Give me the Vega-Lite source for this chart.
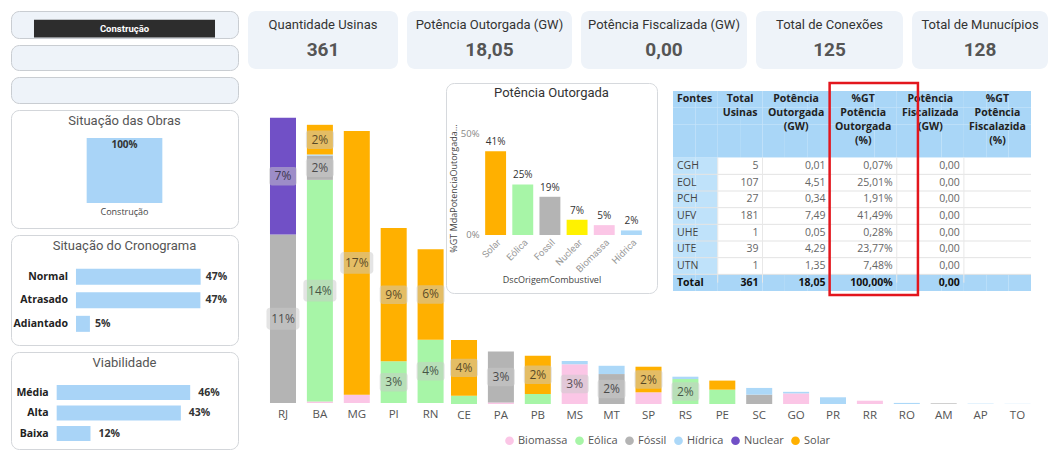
{
"$schema": "https://vega.github.io/schema/vega-lite/v6.json",
"background": "#ffffff",
"padding": {"left": 10, "top": 10, "right": 0, "bottom": 0},
"spacing": 9,
"datasets": {
"uf": [
{"uf":"RJ","fonte":"Fóssil","v":0.108},{"uf":"RJ","fonte":"Nuclear","v":0.0748},
{"uf":"BA","fonte":"Biomassa","v":0.001},{"uf":"BA","fonte":"Eólica","v":0.142},{"uf":"BA","fonte":"Fóssil","v":0.0155},{"uf":"BA","fonte":"Hídrica","v":0.0008},{"uf":"BA","fonte":"Solar","v":0.019},
{"uf":"MG","fonte":"Biomassa","v":0.0053},{"uf":"MG","fonte":"Solar","v":0.169},
{"uf":"PI","fonte":"Eólica","v":0.0267},{"uf":"PI","fonte":"Solar","v":0.0855},
{"uf":"RN","fonte":"Eólica","v":0.0406},{"uf":"RN","fonte":"Solar","v":0.058},
{"uf":"CE","fonte":"Eólica","v":0.0053},{"uf":"CE","fonte":"Solar","v":0.0357},
{"uf":"PA","fonte":"Biomassa","v":0.001},{"uf":"PA","fonte":"Fóssil","v":0.0327},
{"uf":"PB","fonte":"Eólica","v":0.0064},{"uf":"PB","fonte":"Solar","v":0.0246},
{"uf":"MS","fonte":"Biomassa","v":0.0255},{"uf":"MS","fonte":"Hídrica","v":0.0021},
{"uf":"MT","fonte":"Fóssil","v":0.0192},{"uf":"MT","fonte":"Hídrica","v":0.0053},
{"uf":"SP","fonte":"Biomassa","v":0.0075},{"uf":"SP","fonte":"Solar","v":0.0164},
{"uf":"RS","fonte":"Eólica","v":0.016},{"uf":"RS","fonte":"Hídrica","v":0.0015},
{"uf":"PE","fonte":"Eólica","v":0.0092},{"uf":"PE","fonte":"Solar","v":0.0058},
{"uf":"SC","fonte":"Fóssil","v":0.006},{"uf":"SC","fonte":"Hídrica","v":0.0043},
{"uf":"GO","fonte":"Biomassa","v":0.0068},{"uf":"GO","fonte":"Hídrica","v":0.001},
{"uf":"PR","fonte":"Hídrica","v":0.0043},
{"uf":"RR","fonte":"Biomassa","v":0.0021},
{"uf":"RO","fonte":"Hídrica","v":0.0007},
{"uf":"AM","fonte":"Fóssil","v":0.0004},
{"uf":"AP","fonte":"Hídrica","v":0.0002},
{"uf":"TO","fonte":"Hídrica","v":0.0001}
],
"fontes": [
{"f":"Solar","p":0.4149},{"f":"Eólica","p":0.2501},{"f":"Fossil","p":0.189},{"f":"Nuclear","p":0.0748},{"f":"Biomassa","p":0.0487},{"f":"Hídrica","p":0.0226}
],
"tabela": [
{"f":"CGH","n":5,"po":0.01,"pct":0.0007,"pf":0},
{"f":"EOL","n":107,"po":4.51,"pct":0.2501,"pf":0},
{"f":"PCH","n":27,"po":0.34,"pct":0.0191,"pf":0},
{"f":"UFV","n":181,"po":7.49,"pct":0.4149,"pf":0},
{"f":"UHE","n":1,"po":0.05,"pct":0.0028,"pf":0},
{"f":"UTE","n":39,"po":4.29,"pct":0.2377,"pf":0},
{"f":"UTN","n":1,"po":1.35,"pct":0.0748,"pf":0},
{"f":"Total","n":361,"po":18.05,"pct":1,"pf":0}
],
"hdr": [
{"c":"c1","lines":["Fontes"]},
{"c":"c2","lines":["Total","Usinas"]},
{"c":"c3","lines":["Potência","Outorgada","(GW)"]},
{"c":"c4","lines":["%GT","Potência","Outorgada","(%)"]},
{"c":"c5","lines":["Potência","Fiscalizada","(GW)"]},
{"c":"c6","lines":["%GT","Potência","Fiscalazida","(%)"]}
],
"cells": [
{"r":["h1","h2","h3","h4","CGH","EOL","PCH","UFV","UHE","UTE","UTN","Total"],"s":["s1","s2","s3","s4","s5","s6","s7","s8","s9","s10","s11","s12","s13","s14","s15","s16"]}
],
"vazio": [{"s": ""}]
},
"hconcat": [
{"vconcat": [
{"width": 227, "height": 27,
 "view": {"fill": "#eef3f9", "stroke": "#c9cdd2", "cornerRadius": 8},
 "data": {"values": [{"s": "Construção"}]},
 "encoding": {
  "x": {"field": "s", "type": "nominal", "axis": null, "scale": {"paddingInner": 0, "paddingOuter": 0.127}},
  "y": {"field": "s", "type": "nominal", "axis": null, "scale": {"paddingInner": 0, "paddingOuter": 0.26, "align": 0.95}}
 },
 "layer": [
  {"mark": {"type": "bar", "color": "#2d2d2d"}},
  {"mark": {"type": "text", "color": "#ffffff", "fontWeight": "bold", "fontSize": 9.5, "font": "Roboto"}, "encoding": {"text": {"field": "s"}}}
 ]
},
{"width": 227, "height": 25,
 "view": {"fill": "#eef3f9", "stroke": "#c9cdd2", "cornerRadius": 8},
 "data": {"name": "vazio"},
 "mark": {"type": "text"},
 "encoding": {"text": {"field": "s"}}
},
{"width": 227, "height": 26,
 "view": {"fill": "#eef3f9", "stroke": "#c9cdd2", "cornerRadius": 8},
 "data": {"name": "vazio"},
 "mark": {"type": "text"},
 "encoding": {"text": {"field": "s"}}
},
{"width": 227, "height": 118,
 "view": {"fill": "#ffffff", "stroke": "#d3d6da", "cornerRadius": 8},
 "title": {"text": "Situação das Obras", "offset": -18, "frame": "group"},
 "data": {"values": [{"s": "Construção", "p": 1}]},
 "encoding": {
  "x": {"field": "s", "type": "nominal", "axis": null, "scale": {"paddingInner": 0, "paddingOuter": 2.02}},
  "y": {"field": "p", "type": "quantitative", "axis": null, "scale": {"domain": [-0.385, 1.43], "nice": false, "zero": false}}
 },
 "layer": [
  {"mark": {"type": "bar", "color": "#a9d4f7"}},
  {"mark": {"type": "text", "baseline": "top", "dy": 2, "fontWeight": "bold", "fontSize": 10, "color": "#333333"}, "encoding": {"text": {"field": "p", "format": ".0%"}}},
  {"mark": {"type": "text", "baseline": "top", "dy": 5, "fontSize": 9, "color": "#444444"}, "encoding": {"y": {"datum": 0, "type": "quantitative"}, "text": {"field": "s"}}}
 ]
},
{"width": 227, "height": 110,
 "view": {"fill": "#ffffff", "stroke": "#d3d6da", "cornerRadius": 8},
 "title": {"text": "Situação do Cronograma", "offset": -18, "frame": "group"},
 "data": {"values": [{"c": "Normal", "p": 0.474}, {"c": "Atrasado", "p": 0.473}, {"c": "Adiantado", "p": 0.053}]},
 "encoding": {
  "y": {"field": "c", "type": "nominal", "axis": null, "sort": null, "scale": {"domain": ["Normal", "Atrasado", "Adiantado"], "paddingInner": 0.318, "paddingOuter": 1.16, "align": 0.72}},
  "x": {"field": "p", "type": "quantitative", "axis": null, "scale": {"domain": [-0.247, 0.616], "nice": false, "zero": false}}
 },
 "layer": [
  {"mark": {"type": "bar", "color": "#a9d4f7"}},
  {"mark": {"type": "text", "align": "left", "dx": 5, "fontWeight": "bold", "fontSize": 10.5, "color": "#333333"}, "encoding": {"text": {"field": "p", "format": ".0%"}}},
  {"mark": {"type": "text", "align": "right", "dx": -8, "fontWeight": "bold", "fontSize": 10.5, "color": "#222222"}, "encoding": {"x": {"datum": 0, "type": "quantitative"}, "text": {"field": "c"}}}
 ]
},
{"width": 227, "height": 97,
 "view": {"fill": "#ffffff", "stroke": "#d3d6da", "cornerRadius": 8},
 "title": {"text": "Viabilidade", "offset": -18, "frame": "group"},
 "data": {"values": [{"c": "Média", "p": 0.458}, {"c": "Alta", "p": 0.426}, {"c": "Baixa", "p": 0.116}]},
 "encoding": {
  "y": {"field": "c", "type": "nominal", "axis": null, "sort": null, "scale": {"domain": ["Média", "Alta", "Baixa"], "paddingInner": 0.27, "paddingOuter": 1.16, "align": 0.807}},
  "x": {"field": "p", "type": "quantitative", "axis": null, "scale": {"domain": [-0.1567, 0.622], "nice": false, "zero": false}}
 },
 "layer": [
  {"mark": {"type": "bar", "color": "#a9d4f7"}},
  {"mark": {"type": "text", "align": "left", "dx": 8, "fontWeight": "bold", "fontSize": 10.5, "color": "#333333"}, "encoding": {"text": {"field": "p", "format": ".0%"}}},
  {"mark": {"type": "text", "align": "right", "dx": -8, "fontWeight": "bold", "fontSize": 10.5, "color": "#222222"}, "encoding": {"x": {"datum": 0, "type": "quantitative"}, "text": {"field": "c"}}}
 ]
}
], "spacing": 7, "bounds": "flush"},
{"vconcat": [
{"hconcat": [
 {"width": 150, "height": 58, "view": {"fill": "#eef3f9", "stroke": null, "cornerRadius": 8},
  "data": {"values": [{"t": "Quantidade Usinas", "v": 361}]},
  "layer": [
   {"mark": {"type": "text", "font": "Roboto", "fontSize": 13, "color": "#333333"}, "encoding": {"y": {"datum": "t", "type": "nominal", "axis": null, "scale": {"type": "point", "domain": ["t", "v"], "padding": 0.66, "align": 0.424}}, "text": {"field": "t"}}},
   {"mark": {"type": "text", "font": "Roboto", "fontSize": 19, "fontWeight": "bold", "color": "#555555"}, "encoding": {"y": {"datum": "v", "type": "nominal", "axis": null}, "text": {"field": "v", "format": "d"}}}
  ]},
 {"width": 165, "height": 58, "view": {"fill": "#eef3f9", "stroke": null, "cornerRadius": 8},
  "data": {"values": [{"t": "Potência Outorgada (GW)", "v": 18.05}]},
  "layer": [
   {"mark": {"type": "text", "font": "Roboto", "fontSize": 13, "color": "#333333"}, "encoding": {"y": {"datum": "t", "type": "nominal", "axis": null, "scale": {"type": "point", "domain": ["t", "v"], "padding": 0.66, "align": 0.424}}, "text": {"field": "t"}}},
   {"mark": {"type": "text", "font": "Roboto", "fontSize": 19, "fontWeight": "bold", "color": "#555555"}, "encoding": {"y": {"datum": "v", "type": "nominal", "axis": null}, "text": {"field": "v", "format": ".2f"}}}
  ]},
 {"width": 166, "height": 58, "view": {"fill": "#eef3f9", "stroke": null, "cornerRadius": 8},
  "data": {"values": [{"t": "Potência Fiscalizada (GW)", "v": 0}]},
  "layer": [
   {"mark": {"type": "text", "font": "Roboto", "fontSize": 13, "color": "#333333"}, "encoding": {"y": {"datum": "t", "type": "nominal", "axis": null, "scale": {"type": "point", "domain": ["t", "v"], "padding": 0.66, "align": 0.424}}, "text": {"field": "t"}}},
   {"mark": {"type": "text", "font": "Roboto", "fontSize": 19, "fontWeight": "bold", "color": "#555555"}, "encoding": {"y": {"datum": "v", "type": "nominal", "axis": null}, "text": {"field": "v", "format": ".2f"}}}
  ]},
 {"width": 147, "height": 58, "view": {"fill": "#eef3f9", "stroke": null, "cornerRadius": 8},
  "data": {"values": [{"t": "Total de Conexões", "v": 125}]},
  "layer": [
   {"mark": {"type": "text", "font": "Roboto", "fontSize": 13, "color": "#333333"}, "encoding": {"y": {"datum": "t", "type": "nominal", "axis": null, "scale": {"type": "point", "domain": ["t", "v"], "padding": 0.66, "align": 0.424}}, "text": {"field": "t"}}},
   {"mark": {"type": "text", "font": "Roboto", "fontSize": 19, "fontWeight": "bold", "color": "#555555"}, "encoding": {"y": {"datum": "v", "type": "nominal", "axis": null}, "text": {"field": "v", "format": "d"}}}
  ]},
 {"width": 136, "height": 58, "view": {"fill": "#eef3f9", "stroke": null, "cornerRadius": 8},
  "data": {"values": [{"t": "Total de Munucípios", "v": 128}]},
  "layer": [
   {"mark": {"type": "text", "font": "Roboto", "fontSize": 13, "color": "#333333"}, "encoding": {"y": {"datum": "t", "type": "nominal", "axis": null, "scale": {"type": "point", "domain": ["t", "v"], "padding": 0.66, "align": 0.424}}, "text": {"field": "t"}}},
   {"mark": {"type": "text", "font": "Roboto", "fontSize": 19, "fontWeight": "bold", "color": "#555555"}, "encoding": {"y": {"datum": "v", "type": "nominal", "axis": null}, "text": {"field": "v", "format": "d"}}}
  ]}
], "spacing": 9, "bounds": "flush"},
{"hconcat": [
 {"width": 196, "height": 320,
  "data": {"name": "uf"},
  "transform": [
   {"filter": {"field": "uf", "oneOf": ["RJ", "BA", "MG", "PI", "RN"]}},
   {"stack": "v", "groupby": ["uf"], "sort": [{"field": "fonte", "order": "ascending"}], "as": ["v0", "v1"]},
   {"calculate": "(datum.v0 + datum.v1) / 2", "as": "vm"}
  ],
  "encoding": {
   "x": {"field": "uf", "type": "nominal", "sort": null, "scale": {"domain": ["RJ", "BA", "MG", "PI", "RN"], "paddingInner": 0.295, "paddingOuter": 0.3034, "align": 0.982},
    "axis": {"title": null, "domain": false, "ticks": false, "labelPadding": 5, "labelFontSize": 11.5, "labelColor": "#555555", "labelAngle": 0}}
  },
  "layer": [
   {"mark": {"type": "bar"}, "encoding": {
     "y": {"field": "v1", "type": "quantitative", "axis": null, "scale": {"domain": [0, 0.2051], "nice": false, "zero": true}},
     "y2": {"field": "v0"},
     "color": {"field": "fonte", "type": "nominal", "legend": null, "scale": {"domain": ["Biomassa", "Eólica", "Fóssil", "Hídrica", "Nuclear", "Solar"], "range": ["#fbc6e6", "#a7f5a7", "#b4b4b4", "#acd8f8", "#7150c6", "#ffb000"]}}}},
   {"transform": [{"filter": "datum.v >= 0.012"}],
    "mark": {"type": "point", "shape": "M-0.8,-0.66H0.8A0.2,0.2,0,0,1,1,-0.46V0.46A0.2,0.2,0,0,1,0.8,0.66H-0.8A0.2,0.2,0,0,1,-1,0.46V-0.46A0.2,0.2,0,0,1,-0.8,-0.66Z", "filled": true, "color": "#c9c9c9", "opacity": 0.5, "strokeWidth": 0},
    "encoding": {"y": {"field": "vm", "type": "quantitative"}, "size": {"condition": {"test": "datum.v >= 0.095", "value": 1089}, "value": 784}}},
   {"transform": [{"filter": "datum.v >= 0.012"}],
    "mark": {"type": "text", "fontSize": 12, "color": "#000000", "opacity": 0.62},
    "encoding": {"y": {"field": "vm", "type": "quantitative"}, "text": {"field": "v", "format": ".0%"}}}
  ]
 },
 {"vconcat": [
  {"hconcat": [
   {"width": 211, "height": 210,
    "view": {"stroke": "#d6d9dd", "cornerRadius": 8},
    "title": {"text": "Potência Outorgada", "frame": "group", "offset": -17, "fontSize": 13, "color": "#333333"},
    "data": {"name": "fontes"},
    "encoding": {
     "x": {"field": "f", "type": "nominal", "sort": null, "scale": {"domain": ["Solar", "Eólica", "Fossil", "Nuclear", "Biomassa", "Hídrica"], "paddingInner": 0.23, "paddingOuter": 1.173, "align": 0.721},
      "axis": {"offset": -58, "title": "DscOrigemCombustivel", "titleFontSize": 9, "titleFontWeight": "normal", "titleColor": "#444444", "titlePadding": 2, "labelAngle": -45, "labelFontSize": 9.5, "labelColor": "#999999", "labelFont": "Roboto", "domain": false, "ticks": false, "labelPadding": 2}},
     "y": {"field": "p", "type": "quantitative", "scale": {"domain": [-0.287, 0.752], "nice": false, "zero": false},
      "axis": {"offset": -37, "title": "%GT MdaPotenciaOutorgada…", "values": [0, 0.5], "format": ".0%", "grid": false, "domain": false, "ticks": false, "labelColor": "#888888", "labelFontSize": 9.5, "labelPadding": 4, "titleFontSize": 9, "titleFontWeight": "normal", "titleColor": "#444444", "titlePadding": 2}}
    },
    "layer": [
     {"data": {"name": "vazio"}, "mark": {"type": "rule", "strokeDash": [1, 2], "color": "#b8b8b8", "x2Offset": 23},
      "encoding": {"y": {"datum": 0.5, "type": "quantitative"}, "x": {"datum": "Solar", "type": "nominal", "bandPosition": 0}, "x2": {"datum": "Hídrica"}}},
     {"mark": {"type": "bar"}, "encoding": {"color": {"field": "f", "type": "nominal", "legend": null, "scale": {"domain": ["Solar", "Eólica", "Fossil", "Nuclear", "Biomassa", "Hídrica"], "range": ["#ffb000", "#a7f5a7", "#b4b4b4", "#fff200", "#fbc6e6", "#acd8f8"]}}}},
     {"mark": {"type": "text", "baseline": "bottom", "dy": -4, "fontSize": 10, "color": "#333333"}, "encoding": {"text": {"field": "p", "format": ".0%"}}}
    ]
   },
   {"width": 16, "height": 10, "data": {"name": "vazio"}, "mark": {"type": "text"}, "encoding": {"text": {"field": "s"}}},
   {"width": 358, "height": 212,
    "view": {"fill": "#ffffff", "stroke": null},
    "data": {"name": "tabela"},
    "layer": [
     {"data": {"name": "cells"}, "transform": [{"flatten": ["r"]}, {"flatten": ["s"]}],
      "mark": {"type": "rect", "strokeWidth": 0},
      "encoding": {
       "x": {"field": "s", "type": "nominal", "axis": null, "scale": {"domain": ["s1","s2","s3","s4","s5","s6","s7","s8","s9","s10","s11","s12","s13","s14","s15","s16"], "paddingInner": 0, "paddingOuter": 0}},
       "y": {"field": "r", "type": "nominal", "axis": null, "scale": {"domain": ["h1", "h2", "h3", "h4", "CGH", "EOL", "PCH", "UFV", "UHE", "UTE", "UTN", "Total"], "paddingInner": 0, "paddingOuter": 0.36, "align": 0.667}},
       "fill": {"condition": [{"test": "indexof(['h1','h2','h3','h4','Total'], datum.r) >= 0", "value": "#a9d6f7"}, {"test": "indexof(['s1','s2'], datum.s) >= 0", "value": "#bfe2fa"}], "value": "#ffffff"}
      }},
     {"transform": [{"filter": "datum.f != 'CGH'"}], "mark": {"type": "rule", "color": "#e3e3e3", "strokeWidth": 1},
      "encoding": {"y": {"field": "f", "type": "nominal", "bandPosition": 0, "axis": null}}},
     {"data": {"name": "vazio"}, "mark": {"type": "rule", "color": "#e8e8e8", "strokeWidth": 1},
      "encoding": {"x": {"datum": "s3", "type": "nominal", "bandPosition": 0, "axis": null}, "y": {"datum": "CGH", "type": "nominal", "bandPosition": 0, "axis": null}, "y2": {"datum": "Total"}}},
     {"data": {"name": "vazio"}, "mark": {"type": "rule", "color": "#e8e8e8", "strokeWidth": 1},
      "encoding": {"x": {"datum": "s5", "type": "nominal", "bandPosition": 0, "axis": null}, "y": {"datum": "CGH", "type": "nominal", "bandPosition": 0, "axis": null}, "y2": {"datum": "Total"}}},
     {"data": {"name": "vazio"}, "mark": {"type": "rule", "color": "#e8e8e8", "strokeWidth": 1},
      "encoding": {"x": {"datum": "s8", "type": "nominal", "bandPosition": 0, "axis": null}, "y": {"datum": "CGH", "type": "nominal", "bandPosition": 0, "axis": null}, "y2": {"datum": "Total"}}},
     {"data": {"name": "vazio"}, "mark": {"type": "rule", "color": "#e8e8e8", "strokeWidth": 1},
      "encoding": {"x": {"datum": "s11", "type": "nominal", "bandPosition": 0, "axis": null}, "y": {"datum": "CGH", "type": "nominal", "bandPosition": 0, "axis": null}, "y2": {"datum": "Total"}}},
     {"data": {"name": "vazio"}, "mark": {"type": "rule", "color": "#e8e8e8", "strokeWidth": 1},
      "encoding": {"x": {"datum": "s14", "type": "nominal", "bandPosition": 0, "axis": null}, "y": {"datum": "CGH", "type": "nominal", "bandPosition": 0, "axis": null}, "y2": {"datum": "Total"}}},
     {"data": {"name": "hdr"}, "transform": [{"filter": "datum.c == 'c1'"}],
      "mark": {"type": "text", "align": "left", "baseline": "top", "dx": 4, "dy": -5, "fontWeight": "bold", "fontSize": 10.5, "lineHeight": 14, "color": "#222222"},
      "encoding": {"x": {"datum": "s1", "type": "nominal", "bandPosition": 0, "axis": null}, "y": {"datum": "h1", "type": "nominal", "axis": null}, "text": {"field": "lines"}}},
     {"data": {"name": "hdr"}, "transform": [{"filter": "datum.c == 'c2'"}],
      "mark": {"type": "text", "align": "center", "baseline": "top", "dy": -5, "fontWeight": "bold", "fontSize": 10.5, "lineHeight": 14, "color": "#222222"},
      "encoding": {"x": {"datum": "s3", "type": "nominal", "bandPosition": 1, "axis": null}, "y": {"datum": "h1", "type": "nominal", "axis": null}, "text": {"field": "lines"}}},
     {"data": {"name": "hdr"}, "transform": [{"filter": "datum.c == 'c3'"}],
      "mark": {"type": "text", "align": "center", "baseline": "top", "dy": -5, "fontWeight": "bold", "fontSize": 10.5, "lineHeight": 14, "color": "#222222"},
      "encoding": {"x": {"datum": "s6", "type": "nominal", "axis": null}, "y": {"datum": "h1", "type": "nominal", "axis": null}, "text": {"field": "lines"}}},
     {"data": {"name": "hdr"}, "transform": [{"filter": "datum.c == 'c4'"}],
      "mark": {"type": "text", "align": "center", "baseline": "top", "dy": -5, "fontWeight": "bold", "fontSize": 10.5, "lineHeight": 14, "color": "#222222"},
      "encoding": {"x": {"datum": "s9", "type": "nominal", "axis": null}, "y": {"datum": "h1", "type": "nominal", "axis": null}, "text": {"field": "lines"}}},
     {"data": {"name": "hdr"}, "transform": [{"filter": "datum.c == 'c5'"}],
      "mark": {"type": "text", "align": "center", "baseline": "top", "dy": -5, "fontWeight": "bold", "fontSize": 10.5, "lineHeight": 14, "color": "#222222"},
      "encoding": {"x": {"datum": "s12", "type": "nominal", "axis": null}, "y": {"datum": "h1", "type": "nominal", "axis": null}, "text": {"field": "lines"}}},
     {"data": {"name": "hdr"}, "transform": [{"filter": "datum.c == 'c6'"}],
      "mark": {"type": "text", "align": "center", "baseline": "top", "dy": -5, "fontWeight": "bold", "fontSize": 10.5, "lineHeight": 14, "color": "#222222"},
      "encoding": {"x": {"datum": "s15", "type": "nominal", "axis": null}, "y": {"datum": "h1", "type": "nominal", "axis": null}, "text": {"field": "lines"}}},
     {"transform": [{"filter": "datum.f != 'Total'"}],
      "mark": {"type": "text", "align": "left", "dx": 4, "fontSize": 10.5, "color": "#444444"},
      "encoding": {"x": {"datum": "s1", "type": "nominal", "bandPosition": 0, "axis": null}, "y": {"field": "f", "type": "nominal", "axis": null}, "text": {"field": "f"}}},
     {"transform": [{"filter": "datum.f == 'Total'"}],
      "mark": {"type": "text", "align": "left", "dx": 4, "fontSize": 10.5, "fontWeight": "bold", "color": "#111111"},
      "encoding": {"x": {"datum": "s1", "type": "nominal", "bandPosition": 0, "axis": null}, "y": {"field": "f", "type": "nominal", "axis": null}, "text": {"field": "f"}}},
     {"transform": [{"filter": "datum.f != 'Total'"}],
      "mark": {"type": "text", "align": "right", "dx": -4, "fontSize": 10.5, "color": "#666666"},
      "encoding": {"x": {"datum": "s4", "type": "nominal", "bandPosition": 1, "axis": null}, "y": {"field": "f", "type": "nominal", "axis": null}, "text": {"field": "n", "format": "d"}}},
     {"transform": [{"filter": "datum.f != 'Total'"}],
      "mark": {"type": "text", "align": "right", "dx": -4, "fontSize": 10.5, "color": "#666666"},
      "encoding": {"x": {"datum": "s7", "type": "nominal", "bandPosition": 1, "axis": null}, "y": {"field": "f", "type": "nominal", "axis": null}, "text": {"field": "po", "format": ".2f"}}},
     {"transform": [{"filter": "datum.f != 'Total'"}],
      "mark": {"type": "text", "align": "right", "dx": -4, "fontSize": 10.5, "color": "#666666"},
      "encoding": {"x": {"datum": "s10", "type": "nominal", "bandPosition": 1, "axis": null}, "y": {"field": "f", "type": "nominal", "axis": null}, "text": {"field": "pct", "format": ".2%"}}},
     {"transform": [{"filter": "datum.f != 'Total'"}],
      "mark": {"type": "text", "align": "right", "dx": -4, "fontSize": 10.5, "color": "#666666"},
      "encoding": {"x": {"datum": "s13", "type": "nominal", "bandPosition": 1, "axis": null}, "y": {"field": "f", "type": "nominal", "axis": null}, "text": {"field": "pf", "format": ".2f"}}},
     {"transform": [{"filter": "datum.f == 'Total'"}],
      "mark": {"type": "text", "align": "right", "dx": -4, "fontSize": 10.5, "fontWeight": "bold", "color": "#111111"},
      "encoding": {"x": {"datum": "s4", "type": "nominal", "bandPosition": 1, "axis": null}, "y": {"field": "f", "type": "nominal", "axis": null}, "text": {"field": "n", "format": "d"}}},
     {"transform": [{"filter": "datum.f == 'Total'"}],
      "mark": {"type": "text", "align": "right", "dx": -4, "fontSize": 10.5, "fontWeight": "bold", "color": "#111111"},
      "encoding": {"x": {"datum": "s7", "type": "nominal", "bandPosition": 1, "axis": null}, "y": {"field": "f", "type": "nominal", "axis": null}, "text": {"field": "po", "format": ".2f"}}},
     {"transform": [{"filter": "datum.f == 'Total'"}],
      "mark": {"type": "text", "align": "right", "dx": -4, "fontSize": 10.5, "fontWeight": "bold", "color": "#111111"},
      "encoding": {"x": {"datum": "s10", "type": "nominal", "bandPosition": 1, "axis": null}, "y": {"field": "f", "type": "nominal", "axis": null}, "text": {"field": "pct", "format": ".2%"}}},
     {"transform": [{"filter": "datum.f == 'Total'"}],
      "mark": {"type": "text", "align": "right", "dx": -4, "fontSize": 10.5, "fontWeight": "bold", "color": "#111111"},
      "encoding": {"x": {"datum": "s13", "type": "nominal", "bandPosition": 1, "axis": null}, "y": {"field": "f", "type": "nominal", "axis": null}, "text": {"field": "pf", "format": ".2f"}}},
     {"data": {"name": "vazio"},
      "mark": {"type": "rect", "fillOpacity": 0, "stroke": "#e3161d", "strokeWidth": 2.5, "x2Offset": 10},
      "encoding": {"x": {"datum": "s8", "type": "nominal", "bandPosition": 0, "axis": null}, "x2": {"datum": "s11"}}}
    ]
   }
  ], "spacing": 0, "bounds": "flush"},
  {"width": 594, "height": 100,
   "data": {"name": "uf"},
   "transform": [
    {"filter": {"not": {"field": "uf", "oneOf": ["RJ", "BA", "MG", "PI", "RN"]}}},
    {"stack": "v", "groupby": ["uf"], "sort": [{"field": "fonte", "order": "ascending"}], "as": ["v0", "v1"]},
    {"calculate": "(datum.v0 + datum.v1) / 2", "as": "vm"}
   ],
   "encoding": {
    "x": {"field": "uf", "type": "nominal", "sort": null, "scale": {"domain": ["CE", "PA", "PB", "MS", "MT", "SP", "RS", "PE", "SC", "GO", "PR", "RR", "RO", "AM", "AP", "TO"], "paddingInner": 0.295, "paddingOuter": 0.1965, "align": 0.345},
     "axis": {"title": null, "domain": false, "ticks": false, "labelPadding": 5, "labelFontSize": 11.5, "labelColor": "#555555", "labelAngle": 0}}
   },
   "layer": [
    {"mark": {"type": "bar"}, "encoding": {
      "y": {"field": "v1", "type": "quantitative", "axis": null, "scale": {"domain": [0, 0.0641], "nice": false, "zero": true}},
      "y2": {"field": "v0"},
      "color": {"field": "fonte", "type": "nominal",
       "scale": {"domain": ["Biomassa", "Eólica", "Fóssil", "Hídrica", "Nuclear", "Solar"], "range": ["#fbc6e6", "#a7f5a7", "#b4b4b4", "#acd8f8", "#7150c6", "#ffb000"]},
       "legend": {"title": null, "orient": "none", "legendX": 58, "legendY": 131, "direction": "horizontal", "symbolType": "circle", "symbolSize": 75, "symbolStrokeWidth": 0, "labelFontSize": 11, "labelColor": "#555555", "labelOffset": 3, "columnPadding": 6}}}},
    {"transform": [{"filter": "datum.v >= 0.012"}],
     "mark": {"type": "point", "shape": "M-0.8,-0.66H0.8A0.2,0.2,0,0,1,1,-0.46V0.46A0.2,0.2,0,0,1,0.8,0.66H-0.8A0.2,0.2,0,0,1,-1,0.46V-0.46A0.2,0.2,0,0,1,-0.8,-0.66Z", "filled": true, "color": "#c9c9c9", "opacity": 0.5, "strokeWidth": 0},
     "encoding": {"y": {"field": "vm", "type": "quantitative"}, "size": {"condition": {"test": "datum.v >= 0.095", "value": 1089}, "value": 784}}},
    {"transform": [{"filter": "datum.v >= 0.012"}],
     "mark": {"type": "text", "fontSize": 12, "color": "#000000", "opacity": 0.62},
     "encoding": {"y": {"field": "vm", "type": "quantitative"}, "text": {"field": "v", "format": ".0%"}}}
   ]
  }
 ], "spacing": 7, "resolve": {"scale": {"color": "independent"}}}
], "spacing": 0, "resolve": {"scale": {"color": "independent"}}}
], "spacing": 12}
],
"config": {
 "view": {"stroke": null},
 "font": "Open Sans",
 "title": {"font": "Roboto", "fontSize": 13, "fontWeight": "normal", "color": "#555555", "anchor": "middle"},
 "axis": {"labelFont": "Open Sans", "titleFont": "Open Sans"},
 "legend": {"labelFont": "Open Sans"},
 "locale": {"number": {"decimal": ",", "thousands": ".", "grouping": [3], "currency": ["R$ ", ""]}}
}
}
